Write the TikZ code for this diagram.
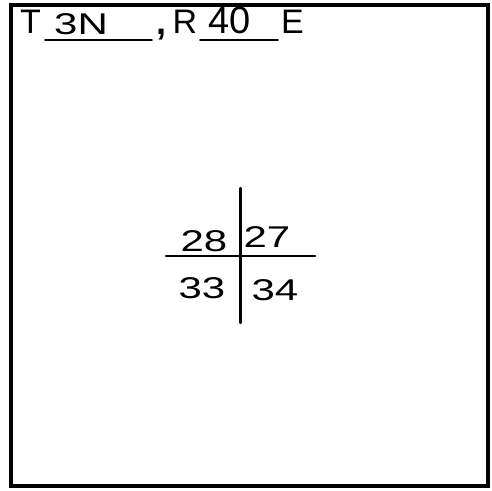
\documentclass[tikz,border=0pt]{standalone}
\usepackage{fontspec}
\setmainfont{Liberation Sans}
\usetikzlibrary{positioning}

% wide hand-lettered numbers
\newcommand{\wide}[1]{\scalebox{1.4}[1]{#1}}

\tikzset{
  hand/.style={font=\fontsize{30}{30}\selectfont, inner sep=0pt, anchor=base},
  caps/.style={hand, font=\fontsize{34}{34}\selectfont},
  pen/.style={line width=2.2pt, line cap=round},
}

\begin{document}
\begin{tikzpicture}[x=1pt, y=-1pt]

    % core positions of the section cross
    \def\cx{240.5}   % vertical line
    \def\cy{256}     % horizontal line

    \useasboundingbox (0,0) rectangle (492,490);

    % 1. outer frame
    \draw[line width=3.5pt] (11,5) rectangle (488,486);

    % 2. township / range header
    \node[caps] (twp) at (30.5,33) {T};
    \node[hand] (twpnum) at (81,34) {\wide{3N}};
    \coordinate (twpL) at (45,40);
    \coordinate (twpR) at (152,40);
    \draw[pen, line width=1.8pt] (twpL) -- (twpR);
    \node[hand, font=\fontsize{36}{36}\selectfont\bfseries] (comma) at (161,34) {,};
    \node[caps] (rng) at (185,33) {R};
    \node[hand, font=\fontsize{38}{38}\selectfont] (rngnum) at (230,33) {40};
    \coordinate (rngL) at (200,40);
    \coordinate (rngR) at (278,40);
    \draw[pen, line width=1.8pt] (rngL) -- (rngR);
    \node[caps] (ew) at (292.5,33) {E};

    % 3. section cross
    \coordinate (top) at (\cx,188);
    \coordinate (bot) at (\cx,323);
    \coordinate (lft) at (166,\cy);
    \coordinate (rgt) at (315,\cy);
    \draw[pen] (top) -- (bot);
    \draw[pen] (lft) -- (rgt);

    % 4. section numbers
    \node[hand] (s28) at (204,251) {\wide{28}};
    \node[hand] (s27) at (267,247) {\wide{27}};
    \node[hand] (s33) at (202,298) {\wide{33}};
    \node[hand] (s34) at (275,300) {\wide{34}};

\end{tikzpicture}
\end{document}
